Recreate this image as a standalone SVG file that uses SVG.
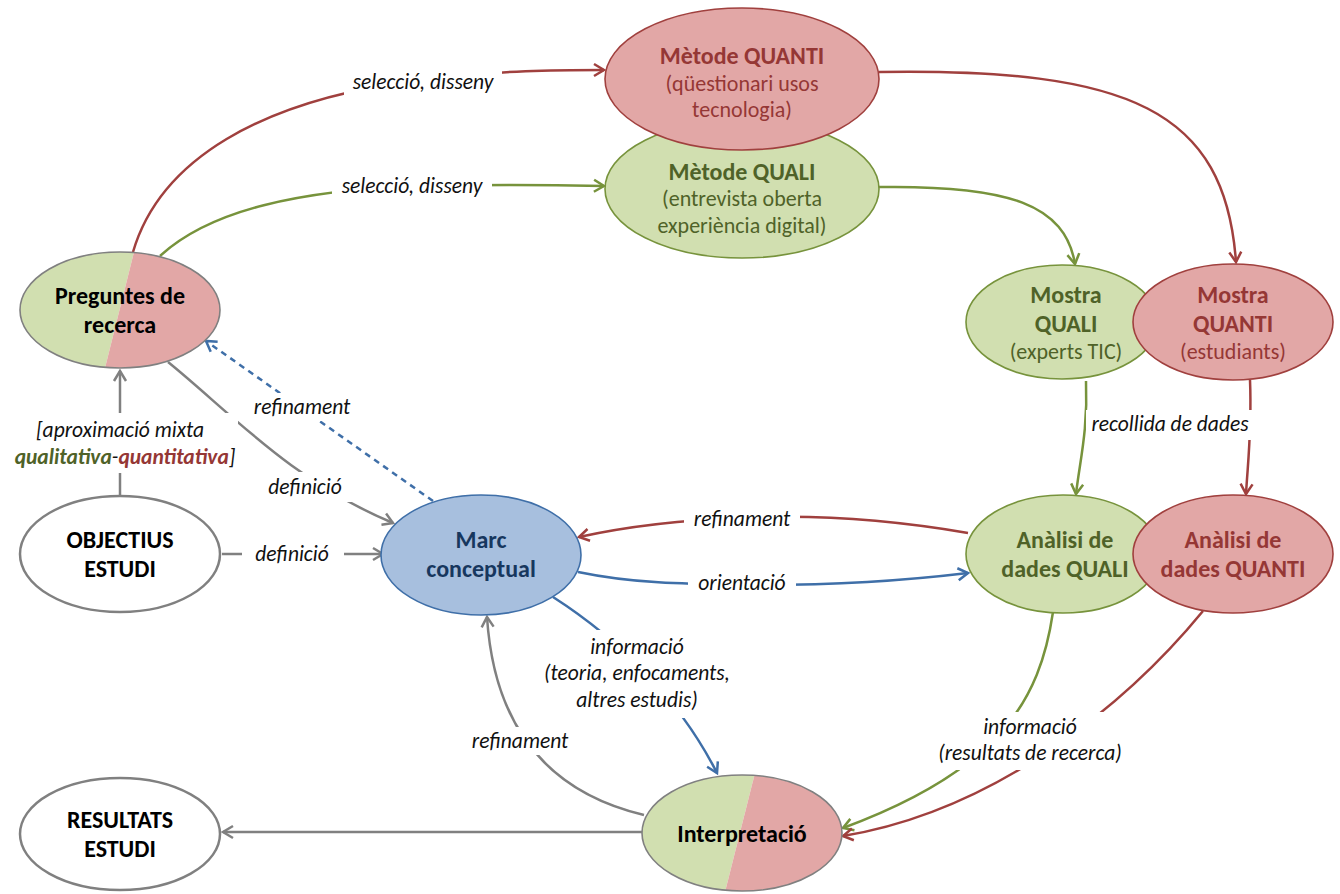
<svg xmlns="http://www.w3.org/2000/svg" width="1340" height="894" viewBox="0 0 1340 894">
  <style>
    text { font-family: Carlito, Lato, "Liberation Sans", sans-serif; text-anchor: middle; }
    .title { font-size: 24px; font-weight: bold; }
    .sub { font-size: 22px; }
    .lbl { font-size: 21.5px; font-style: italic; fill: #111; }
    .bg { fill: #fff; }
    .c { fill: none; stroke-width: 2.5; }
    .red { stroke: #A0403E; }
    .green { stroke: #77933C; }
    .blue { stroke: #3F6FA8; }
    .gray { stroke: #808080; }
    .fred { fill: #E2A7A6; stroke: #A0403E; stroke-width: 1.6; }
    .fgreen { fill: #D1DFB0; stroke: #77933C; stroke-width: 1.6; }
    .fblue { fill: #A7BFDE; stroke: #3F6FA8; stroke-width: 1.6; }
    .fwhite { fill: #fff; stroke: #808080; stroke-width: 2.5; }
    .tred { fill: #953735; }
    .tgreen { fill: #4F6228; }
    .tblue { fill: #17375E; }
    .tblack { fill: #000; }
  </style>
  <defs>
    <marker id="ar-red" viewBox="0 0 16 16" refX="13" refY="8" markerWidth="16" markerHeight="16" markerUnits="userSpaceOnUse" orient="auto">
      <path d="M3,2 L13,8 L3,14" fill="none" stroke="#A0403E" stroke-width="2.5"/>
    </marker>
    <marker id="ar-green" viewBox="0 0 16 16" refX="13" refY="8" markerWidth="16" markerHeight="16" markerUnits="userSpaceOnUse" orient="auto">
      <path d="M3,2 L13,8 L3,14" fill="none" stroke="#77933C" stroke-width="2.5"/>
    </marker>
    <marker id="ar-blue" viewBox="0 0 16 16" refX="13" refY="8" markerWidth="16" markerHeight="16" markerUnits="userSpaceOnUse" orient="auto">
      <path d="M3,2 L13,8 L3,14" fill="none" stroke="#3F6FA8" stroke-width="2.5"/>
    </marker>
    <marker id="ar-gray" viewBox="0 0 16 16" refX="13" refY="8" markerWidth="16" markerHeight="16" markerUnits="userSpaceOnUse" orient="auto">
      <path d="M3,2 L13,8 L3,14" fill="none" stroke="#808080" stroke-width="2.5"/>
    </marker>
    <clipPath id="clip-preg"><ellipse cx="120" cy="310" rx="100" ry="58"/></clipPath>
    <clipPath id="clip-interp"><ellipse cx="742" cy="833" rx="100" ry="58"/></clipPath>
  </defs>

  <!-- connectors -->
  <g id="connectors">
    <path class="c red" d="M133,252 C160,160 260,100 420,80 C500,70 560,70 604,70" marker-end="url(#ar-red)"/>
    <path class="c green" d="M160,256 C210,210 300,190 420,186 C500,184 560,185 604,186" marker-end="url(#ar-green)"/>
    <path class="c red" d="M879,72 C1130,68 1225,110 1236,262" marker-end="url(#ar-red)"/>
    <path class="c green" d="M879,187 C1010,185 1065,205 1075,264" marker-end="url(#ar-green)"/>
    <path class="c green" d="M1086,381 C1088,430 1080,460 1076,494" marker-end="url(#ar-green)"/>
    <path class="c red" d="M1250,380 C1252,430 1248,460 1246,494" marker-end="url(#ar-red)"/>
    <path class="c red" d="M968,533 C880,518 800,515 742,518 C680,520 620,528 579,537" marker-end="url(#ar-red)"/>
    <path class="c blue" d="M578,572 C640,585 700,584 760,585 C840,585 910,580 968,573" marker-end="url(#ar-blue)"/>
    <path class="c blue" d="M553,597 C620,640 680,700 717,773" marker-end="url(#ar-blue)"/>
    <path class="c gray" d="M644,815 C560,795 495,740 487,617" marker-end="url(#ar-gray)"/>
    <path class="c gray" d="M643,832 L223,832" marker-end="url(#ar-gray)"/>
    <path class="c gray" d="M168,362 C230,412 290,480 393,523" marker-end="url(#ar-gray)"/>
    <path class="c gray" d="M222,554 L383,554" marker-end="url(#ar-gray)"/>
    <path class="c gray" d="M120,496 L120,371" marker-end="url(#ar-gray)"/>
    <path class="c blue" d="M433,501 L206,341" stroke-dasharray="6,5" marker-end="url(#ar-blue)"/>
    <path class="c green" d="M1053,612 C1040,700 1000,770 843,828" marker-end="url(#ar-green)"/>
    <path class="c red" d="M1203,611 C1130,700 1000,810 843,836" marker-end="url(#ar-red)"/>

    <!-- connector labels on white backing -->
    <rect class="bg" x="344" y="68" width="158" height="28"/>
    <text class="lbl" x="423" y="89">selecció, disseny</text>
    <rect class="bg" x="332" y="172" width="160" height="28"/>
    <text class="lbl" x="412" y="193">selecció, disseny</text>
    <rect class="bg" x="1086" y="410" width="170" height="30"/>
    <text class="lbl" x="1170" y="431">recollida de dades</text>
    <rect class="bg" x="684" y="505" width="116" height="28"/>
    <text class="lbl" x="742" y="526">refinament</text>
    <rect class="bg" x="688" y="569" width="108" height="29"/>
    <text class="lbl" x="742" y="590">orientació</text>
    <rect class="bg" x="535" y="630" width="204" height="88"/>
    <text class="lbl" x="637" y="654">informació</text>
    <text class="lbl" x="637" y="680">(teoria, enfocaments,</text>
    <text class="lbl" x="637" y="707">altres estudis)</text>
    <rect class="bg" x="464" y="727" width="112" height="28"/>
    <text class="lbl" x="520" y="748">refinament</text>
    <rect class="bg" x="928" y="712" width="204" height="58"/>
    <text class="lbl" x="1030" y="734">informació</text>
    <text class="lbl" x="1030" y="760">(resultats de recerca)</text>
    <rect class="bg" x="246" y="393" width="112" height="28"/>
    <text class="lbl" x="302" y="414">refinament</text>
    <rect class="bg" x="256" y="472" width="98" height="30"/>
    <text class="lbl" x="305" y="494">definició</text>
    <rect class="bg" x="242" y="540" width="102" height="28"/>
    <text class="lbl" x="292" y="561">definició</text>
    <rect class="bg" x="26" y="413" width="212" height="60"/>
    <text class="lbl" x="120" y="437">[aproximació mixta</text>
    <text class="lbl" x="125" y="464"><tspan fill="#4F6228" font-weight="bold">qualitativa</tspan>-<tspan fill="#953735" font-weight="bold">quantitativa</tspan>]</text>
  </g>

  <!-- nodes -->
  <g id="metode-quali">
    <ellipse class="fgreen" cx="742" cy="189" rx="137" ry="69"/>
    <text class="title tgreen" x="742" y="180">Mètode QUALI</text>
    <text class="sub tgreen" x="742" y="206">(entrevista oberta</text>
    <text class="sub tgreen" x="742" y="233">experiència digital)</text>
  </g>
  <g id="metode-quanti">
    <ellipse class="fred" cx="742" cy="79" rx="137" ry="71"/>
    <text class="title tred" x="742" y="64">Mètode QUANTI</text>
    <text class="sub tred" x="742" y="91">(qüestionari usos</text>
    <text class="sub tred" x="742" y="117">tecnologia)</text>
  </g>

  <g id="preguntes">
    <g clip-path="url(#clip-preg)">
      <polygon points="0,240 137,240 102,380 0,380" fill="#D1DFB0"/>
      <polygon points="137,240 240,240 240,380 102,380" fill="#E2A7A6"/>
    </g>
    <ellipse cx="120" cy="310" rx="100" ry="58" fill="none" stroke="#808080" stroke-width="1.6"/>
    <text class="title tblack" x="120" y="304">Preguntes de</text>
    <text class="title tblack" x="120" y="333">recerca</text>
  </g>

  <g id="objectius">
    <ellipse class="fwhite" cx="120" cy="554" rx="100" ry="58"/>
    <text class="title tblack" x="120" y="548">OBJECTIUS</text>
    <text class="title tblack" x="120" y="577">ESTUDI</text>
  </g>

  <g id="resultats">
    <ellipse class="fwhite" cx="120" cy="834" rx="100" ry="56"/>
    <text class="title tblack" x="120" y="828">RESULTATS</text>
    <text class="title tblack" x="120" y="857">ESTUDI</text>
  </g>

  <g id="marc">
    <ellipse class="fblue" cx="481" cy="555" rx="100" ry="60"/>
    <text class="title tblue" x="481" y="548">Marc</text>
    <text class="title tblue" x="481" y="577">conceptual</text>
  </g>

  <g id="mostra-quali">
    <ellipse class="fgreen" cx="1062" cy="322" rx="96" ry="57"/>
    <text class="title tgreen" x="1066" y="303">Mostra</text>
    <text class="title tgreen" x="1066" y="332">QUALI</text>
    <text class="sub tgreen" x="1066" y="359">(experts TIC)</text>
  </g>
  <g id="mostra-quanti">
    <ellipse class="fred" cx="1233" cy="322" rx="100" ry="58"/>
    <text class="title tred" x="1233" y="303">Mostra</text>
    <text class="title tred" x="1233" y="332">QUANTI</text>
    <text class="sub tred" x="1233" y="359">(estudiants)</text>
  </g>

  <g id="analisi-quali">
    <ellipse class="fgreen" cx="1063" cy="554" rx="97" ry="59"/>
    <text class="title tgreen" x="1065" y="548">Anàlisi de</text>
    <text class="title tgreen" x="1065" y="577">dades QUALI</text>
  </g>
  <g id="analisi-quanti">
    <ellipse class="fred" cx="1233" cy="554" rx="100" ry="59"/>
    <text class="title tred" x="1233" y="548">Anàlisi de</text>
    <text class="title tred" x="1233" y="577">dades QUANTI</text>
  </g>

  <g id="interpretacio">
    <g clip-path="url(#clip-interp)">
      <polygon points="620,765 757,765 723,900 620,900" fill="#D1DFB0"/>
      <polygon points="757,765 860,765 860,900 723,900" fill="#E2A7A6"/>
    </g>
    <ellipse cx="742" cy="833" rx="100" ry="58" fill="none" stroke="#808080" stroke-width="1.6"/>
    <text class="title tblack" x="742" y="842">Interpretació</text>
  </g>
</svg>
